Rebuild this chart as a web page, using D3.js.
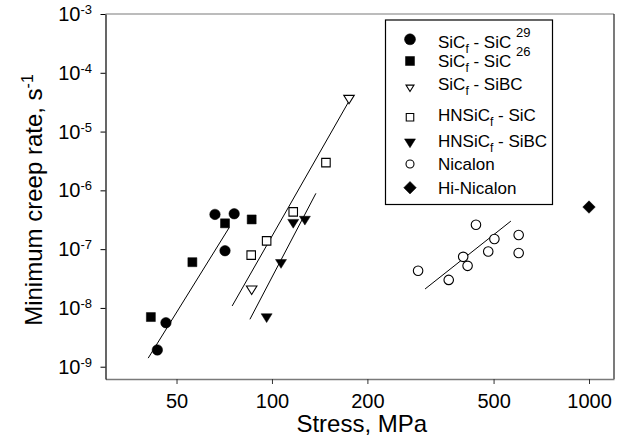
<!DOCTYPE html>
<html>
<head>
<meta charset="utf-8">
<script src="https://cdn.jsdelivr.net/npm/d3@7"></script>
<style>
  body { margin: 0; background: #fff; }
  text { font-family: "Liberation Sans", Arial, sans-serif; fill: #000; }
</style>
</head>
<body>
<script>
var width = 627;
var height = 444;

// data: [stress MPa, min creep rate 1/s]
var sicSic29 = [[43.5, 1.93e-9], [46.3, 5.6e-9], [66.1, 3.9e-7], [71.1, 9.4e-8], [76, 4.0e-7]];
var sicSic26 = [[41.5, 7.0e-9], [56.1, 6.0e-8], [71.1, 2.75e-7], [86.3, 3.2e-7]];
var sicSiBC = [[86.3, 2.0e-8], [175, 3.5e-5]];
var hnSicSic = [[86, 7.9e-8], [96.2, 1.38e-7], [116.7, 4.3e-7], [148, 2.96e-6]];
var hnSicSiBC = [[96.2, 6.7e-9], [106.8, 5.6e-8], [116.7, 2.7e-7], [127, 3.05e-7]];
var nicalon = [[289, 4.3e-8], [361, 3.0e-8], [401, 7.4e-8], [414, 5.2e-8], [440, 2.6e-7],
  [481, 9.1e-8], [503, 1.49e-7], [600, 1.74e-7], [600, 8.6e-8]];
var hiNicalon = [[1000, 5.2e-7]];

// fitted lines
var fitSic = [[40.7, 1.4e-9], [73.2, 2.3e-7]];
var fitSiBC = [[74.9, 1.08e-8], [175, 3.3e-5]];
var fitHnSiBC = [[85.2, 6.4e-9], [137.6, 8.9e-7]];
var fitNicalon = [[304, 2.1e-8], [567, 3.0e-7]];

var xTicks = [50, 100, 200, 500, 1000];
var yTicks = [-9, -8, -7, -6, -5, -4, -3];

var pLeft = 105.5, pRight = 614, pTop = 14, pBottom = 379;

var x = d3.scaleLog().domain([29.85, 1199]).range([pLeft, pRight]);
var y = d3.scaleLog().domain([Math.pow(10, -9.209), 1e-3]).range([pBottom, pTop]);

var svg = d3.select("body").append("svg")
  .attr("width", width)
  .attr("height", height);

// frame
svg.append("line")
  .attr("x1", pLeft).attr("x2", pRight).attr("y1", pTop).attr("y2", pTop)
  .style("stroke", "#7a7a7a").style("stroke-width", 1.2);
svg.append("line")
  .attr("x1", pRight).attr("x2", pRight).attr("y1", pTop).attr("y2", pBottom)
  .style("stroke", "#222").style("stroke-width", 1.2);

var xAxis = svg.append("g")
  .attr("transform", "translate(0," + pBottom + ")")
  .call(d3.axisBottom(x).tickValues(xTicks).tickSize(5).tickSizeOuter(0).tickPadding(10)
    .tickFormat(d3.format("d")));
xAxis.select(".domain").style("stroke", "#7a7a7a").style("stroke-width", 1.5);
xAxis.selectAll(".tick line").style("stroke", "#333");
xAxis.selectAll("text").style("font-size", "20px").style("font-family", "Liberation Sans, Arial");

var yAxis = svg.append("g")
  .attr("transform", "translate(" + pLeft + ",0)")
  .call(d3.axisLeft(y).tickValues(yTicks.map(function(e) { return Math.pow(10, e); }))
    .tickSize(5).tickSizeOuter(0).tickFormat(""));
yAxis.select(".domain").style("stroke", "#000").style("stroke-width", 1.2);

var yLab = svg.selectAll(".ylab")
  .data(yTicks)
  .enter().append("text")
  .attr("class", "ylab")
  .attr("x", 92)
  .attr("y", function(d) { return y(Math.pow(10, d)) + 7; })
  .attr("text-anchor", "end")
  .style("font-size", "20px");
yLab.append("tspan").text("10");
yLab.append("tspan")
  .attr("dy", -7)
  .style("font-size", "13px")
  .text(function(d) { return "-" + (-d); });

// axis titles
svg.append("text")
  .attr("x", (pLeft + pRight) / 2 + 2)
  .attr("y", 432)
  .attr("text-anchor", "middle")
  .style("font-size", "24px")
  .text("Stress, MPa");

var yt = svg.append("text")
  .attr("transform", "translate(42," + 200 + ") rotate(-90)")
  .attr("text-anchor", "middle")
  .style("font-size", "24px");
yt.append("tspan").text("Minimum creep rate, s");
yt.append("tspan").attr("dy", -9).style("font-size", "16px").text("-1");

// fit lines
var line = d3.line()
  .x(function(d) { return x(d[0]); })
  .y(function(d) { return y(d[1]); });

svg.selectAll(".fit")
  .data([fitSic, fitSiBC, fitHnSiBC, fitNicalon])
  .enter().append("path")
  .attr("class", "fit")
  .attr("d", line)
  .style("fill", "none")
  .style("stroke", "#000")
  .style("stroke-width", 1);

// marker shapes
function shape(kind, s) {
  var h = s / 2;
  if (kind == "circle" || kind == "ocircle") {
    return "M" + h + ",0A" + h + "," + h + " 0 1,1 " + (-h) + ",0A" + h + "," + h + " 0 1,1 " + h + ",0Z";
  }
  if (kind == "square" || kind == "osquare") {
    return "M" + (-h) + "," + (-h) + "H" + h + "V" + h + "H" + (-h) + "Z";
  }
  if (kind == "tri" || kind == "otri") {
    return "M" + (-h) + "," + (-h * 0.8) + "H" + h + "L0," + (h * 0.8) + "Z";
  }
  if (kind == "diamond") {
    return "M0," + (-h) + "L" + h + ",0L0," + h + "L" + (-h) + ",0Z";
  }
}

var series = [
  { data: sicSic29, kind: "circle", size: 10.5, lsize: 11 },
  { data: sicSic26, kind: "square", size: 9, lsize: 9 },
  { data: sicSiBC, kind: "otri", size: 10.5, lsize: 8 },
  { data: hnSicSic, kind: "osquare", size: 8.5, lsize: 7.5 },
  { data: hnSicSiBC, kind: "tri", size: 11, lsize: 11 },
  { data: nicalon, kind: "ocircle", size: 9.5, lsize: 8 },
  { data: hiNicalon, kind: "diamond", size: 12.5, lsize: 12.5 }
];

function styleMark(sel, kind) {
  var open = kind.charAt(0) == "o";
  sel.style("fill", open ? "#fff" : "#000")
    .style("stroke", "#000")
    .style("stroke-width", open ? 1.1 : 0.5);
}

series.forEach(function(s) {
  var m = svg.append("g").selectAll("path")
    .data(s.data)
    .enter().append("path")
    .attr("d", shape(s.kind, s.size))
    .attr("transform", function(d) { return "translate(" + x(d[0]) + "," + y(d[1]) + ")"; });
  styleMark(m, s.kind);
});

// legend
var legend = svg.append("g");
legend.append("rect")
  .attr("x", 385.5).attr("y", 20).attr("width", 167).attr("height", 184.5)
  .style("fill", "#fff").style("stroke", "#000").style("stroke-width", 1.2);

var legRows = [
  { kind: "circle", sy: 39.3, ty: 47.7, parts: [["SiC"], ["f", "sub"], [" - SiC "], ["29", "sup"]] },
  { kind: "square", sy: 61, ty: 66.7, parts: [["SiC"], ["f", "sub"], [" - SiC "], ["26", "sup"]] },
  { kind: "otri", sy: 88.3, ty: 90, parts: [["SiC"], ["f", "sub"], [" - SiBC"]] },
  { kind: "osquare", sy: 117.3, ty: 120.7, parts: [["HNSiC"], ["f", "sub"], [" - SiC"]] },
  { kind: "tri", sy: 143.3, ty: 147.3, parts: [["HNSiC"], ["f", "sub"], [" - SiBC"]] },
  { kind: "ocircle", sy: 164, ty: 170, parts: [["Nicalon"]] },
  { kind: "diamond", sy: 187.7, ty: 194, parts: [["Hi-Nicalon"]] }
];

legRows.forEach(function(r, i) {
  var ls = series[i].lsize;
  var m = legend.append("path")
    .attr("d", shape(r.kind, ls))
    .attr("transform", "translate(410," + r.sy + ")");
  styleMark(m, r.kind);

  var t = legend.append("text")
    .attr("x", 438)
    .attr("y", r.ty)
    .style("font-size", "17px")
    .attr("xml:space", "preserve")
    .style("white-space", "pre");
  var shift = 0;
  r.parts.forEach(function(p) {
    var ts = t.append("tspan").text(p[0]);
    var want = 0;
    if (p[1] == "sub") { want = 5; ts.style("font-size", "12px"); }
    if (p[1] == "sup") { want = -11; ts.style("font-size", "13px"); }
    ts.attr("dy", want - shift);
    shift = want;
  });
});
</script>
</body>
</html>
